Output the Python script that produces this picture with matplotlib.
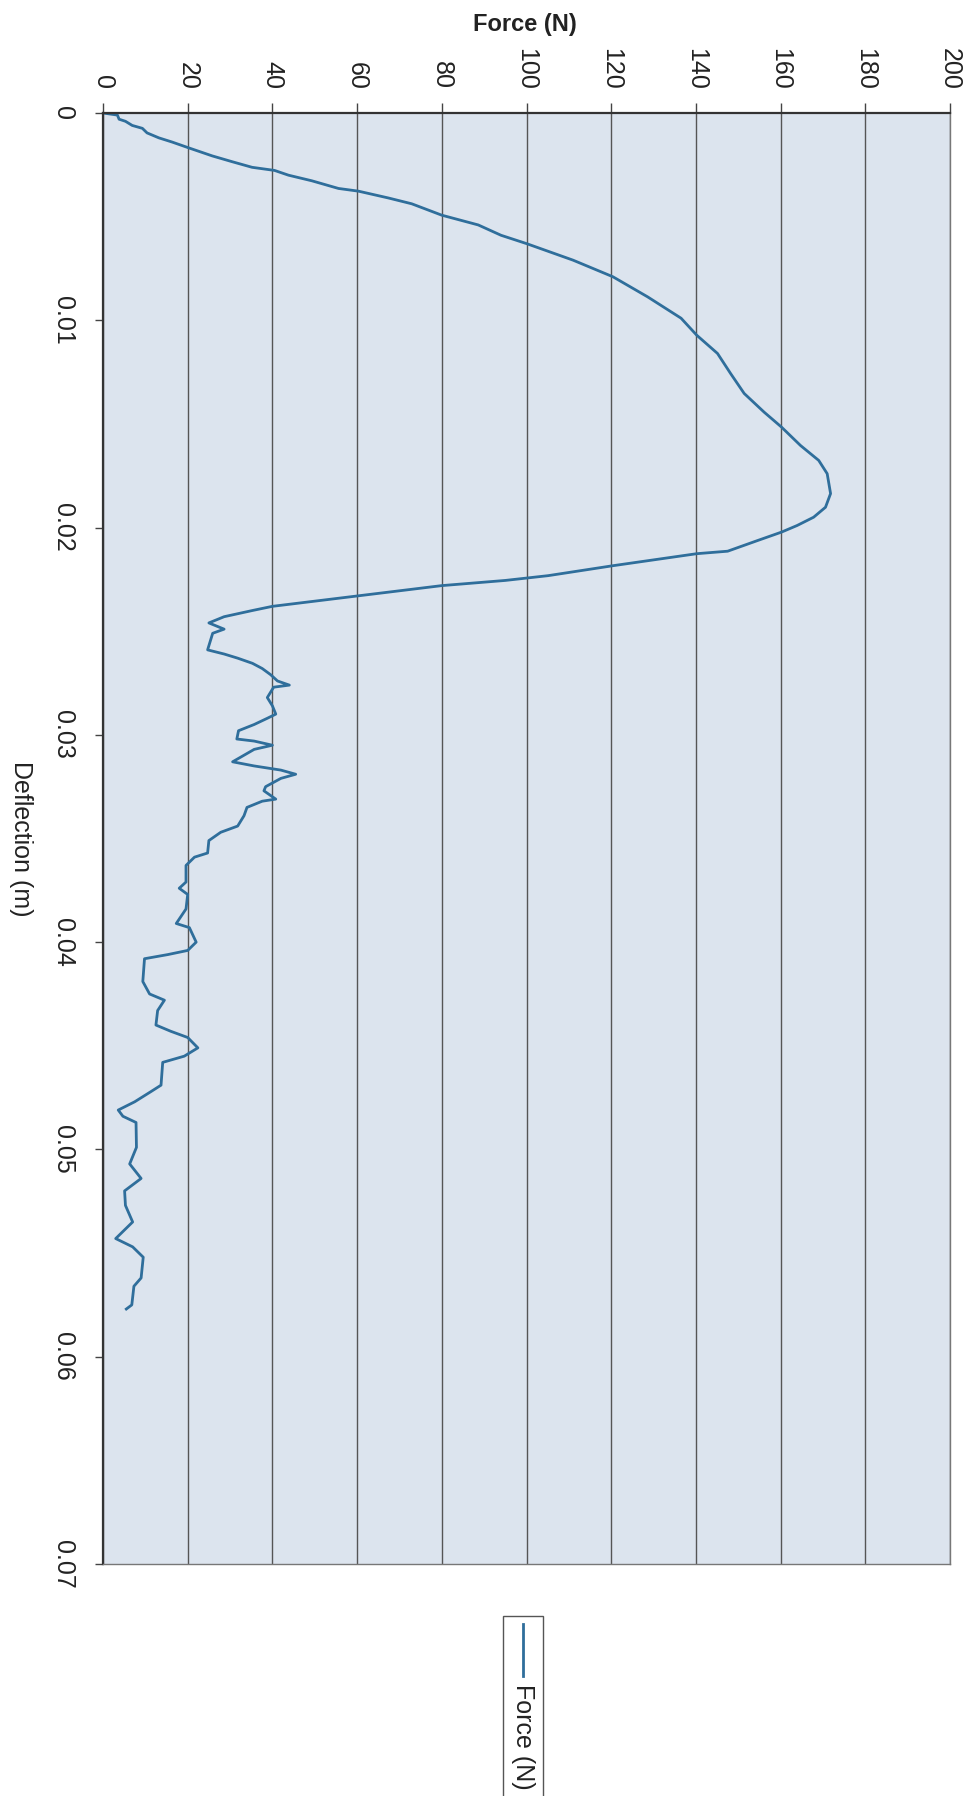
import matplotlib
matplotlib.use("Agg")
import matplotlib.pyplot as plt
from matplotlib.patches import Rectangle
from matplotlib.lines import Line2D

# ---- data ----
deflection_m = [
    0.0000, 0.0001, 0.0003, 0.0004, 0.0006, 0.00074, 0.00096, 0.0012, 0.0014, 0.0017,
    0.00207, 0.00235, 0.00262, 0.00277, 0.0030, 0.00327, 0.00364, 0.00377, 0.0041, 0.00438,
    0.00493, 0.0054, 0.0059, 0.0063, 0.0071, 0.0079, 0.00887, 0.0099, 0.01072, 0.0116,
    0.01257, 0.01353, 0.01443, 0.01515, 0.01604, 0.01676, 0.0174, 0.01836, 0.01902, 0.0195,
    0.0199, 0.02022, 0.02063, 0.02114, 0.02126, 0.02184, 0.02232, 0.02255, 0.0228, 0.0233,
    0.0238, 0.0240, 0.0243, 0.0246, 0.0249, 0.0251, 0.0259, 0.0261, 0.0263, 0.02655,
    0.0268, 0.0271, 0.0274, 0.0276, 0.0277, 0.0282, 0.0286, 0.0290, 0.0292, 0.0295,
    0.0298, 0.0302, 0.0303, 0.0305, 0.0307, 0.0313, 0.0315, 0.0317, 0.0319, 0.0321,
    0.0325, 0.0327, 0.0331, 0.0332, 0.0335, 0.0339, 0.0344, 0.0347, 0.0351, 0.0357,
    0.0359, 0.0363, 0.0371, 0.0374, 0.0377, 0.0384, 0.0391, 0.0393, 0.0400, 0.0404,
    0.0406, 0.0408, 0.0419, 0.0425, 0.0428, 0.0433, 0.0440, 0.0443, 0.0446, 0.0451,
    0.0455, 0.0458, 0.0469, 0.0472, 0.0477, 0.0481, 0.0484, 0.0487, 0.0499, 0.0507,
    0.0514, 0.0520, 0.0527, 0.0535, 0.0543, 0.0547, 0.0552, 0.0562, 0.0566, 0.0575,
    0.0577,
]
force_n = [
    0.0, 3.4, 3.8, 5.3, 6.9, 9.3, 10.4, 13.2, 16.3, 20.5,
    25.8, 30.5, 35.2, 40.5, 43.8, 49.3, 55.6, 60.3, 67.4, 72.9,
    80.0, 88.6, 94.0, 100.0, 111.0, 120.4, 128.6, 136.5, 140.2, 145.1,
    148.2, 151.4, 156.1, 160.2, 164.7, 169.0, 171.0, 171.8, 170.6, 167.8,
    163.9, 160.2, 154.5, 147.5, 140.2, 120.4, 105.1, 95.0, 80.0, 60.0,
    40.0, 35.3, 28.6, 25.0, 28.6, 25.9, 24.7, 28.6, 31.8, 35.3,
    37.6, 39.6, 41.2, 44.0, 40.3, 38.8, 40.0, 40.8, 38.8, 35.7,
    32.0, 31.6, 35.7, 40.0, 35.7, 30.6, 35.7, 42.0, 45.5, 42.0,
    38.4, 38.0, 40.8, 37.6, 34.0, 33.3, 31.8, 27.8, 25.0, 24.7,
    21.6, 19.6, 19.6, 18.0, 20.0, 19.6, 17.3, 20.4, 22.0, 20.0,
    15.3, 9.8, 9.4, 11.0, 14.5, 12.9, 12.5, 16.0, 20.0, 22.4,
    19.2, 14.1, 13.7, 11.4, 7.5, 3.6, 4.7, 7.8, 7.9, 6.3,
    9.0, 5.1, 5.3, 7.0, 3.0, 7.0, 9.5, 9.0, 7.3, 6.8,
    5.5,
]
force_ticks = [0, 20, 40, 60, 80, 100, 120, 140, 160, 180, 200]
deflection_ticks = [0, 0.01, 0.02, 0.03, 0.04, 0.05, 0.06, 0.07]
deflection_ticklabels = ["0", "0.01", "0.02", "0.03", "0.04", "0.05", "0.06", "0.07"]
series_name = "Force (N)"
force_title = "Force (N)"
deflection_title = "Deflection (m)"

# ---- figure ----
W, H, DPI = 974, 1796, 100
plt.rcParams['font.family'] = ['Liberation Sans', 'DejaVu Sans']
fig = plt.figure(figsize=(W / DPI, H / DPI), dpi=DPI, facecolor='white')

L, R, T, B = 103, 950, 113, 1564
ax = fig.add_axes([L / W, 1 - B / H, (R - L) / W, (B - T) / H])
ax.set_facecolor('#dce4ee')

line_color = '#2f6e9b'
ax.plot(force_n, deflection_m, color=line_color, lw=2.0, solid_joinstyle='round')

ax.set_xlim(0, 200)
ax.set_ylim(0.07, 0)

ax.xaxis.tick_top()
ax.set_xticks(force_ticks)
ax.set_xticklabels([str(v) for v in force_ticks])
ax.tick_params(axis='x', which='major', direction='out', length=7, width=1.0,
               color='#444444', labelsize=18, labelrotation=-90, pad=10,
               labelcolor='#222222')
ax.set_yticks(deflection_ticks)
ax.set_yticklabels(deflection_ticklabels)
ax.tick_params(axis='y', which='major', direction='out', length=6, width=1.0,
               color='#444444', labelsize=18, labelrotation=-90, pad=14,
               labelcolor='#222222')
for lab in ax.get_yticklabels():
    lab.set_va('center')
    lab.set_ha('right')

ax.grid(True, axis='x', color='#555555', lw=1.0)
ax.grid(False, axis='y')
ax.set_axisbelow(True)

for side in ('left', 'top'):
    ax.spines[side].set_color('#333333')
    ax.spines[side].set_linewidth(1.6)
for side in ('right', 'bottom'):
    ax.spines[side].set_color('#777777')
    ax.spines[side].set_linewidth(1.0)

# axis titles
fig.text(525 / W, 1 - 24 / H, force_title, ha='center', va='center',
         fontsize=17, fontweight='bold', color='#222222')
fig.text(21 / W, 1 - 839 / H, deflection_title, ha='center', va='center',
         rotation=-90, fontsize=18, color='#222222')

# legend (rotated, at bottom)
px = lambda x: x / W
py = lambda y: 1 - y / H
box = Rectangle((px(503), py(1800)), px(543) - px(503), py(1616) - py(1800),
                transform=fig.transFigure, facecolor='white', edgecolor='#555555',
                lw=1.0)
fig.add_artist(box)
fig.add_artist(Line2D([px(523), px(523)], [py(1624), py(1676)],
                      transform=fig.transFigure, color=line_color, lw=2.0))
fig.text(px(523), py(1684), series_name, ha='center', va='top', rotation=-90,
         fontsize=18, color='#222222')

fig.savefig('out.png', dpi=DPI, facecolor='white')
